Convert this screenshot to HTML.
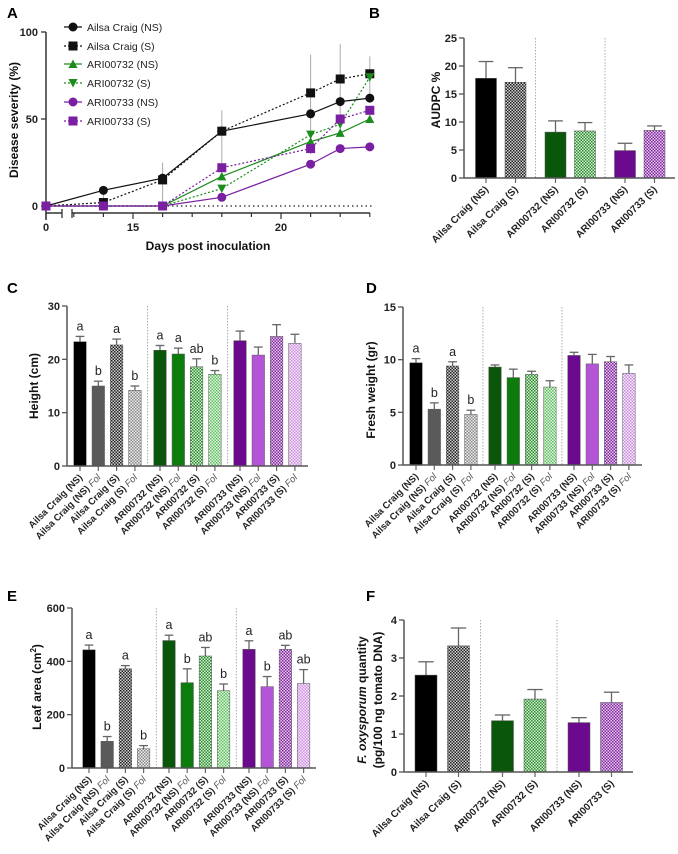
<!DOCTYPE html>
<html><head><meta charset="utf-8">
<style>
html,body{margin:0;padding:0;background:#fff;}
svg{display:block;font-family:"Liberation Sans",sans-serif;}
.tk{font-size:11px;font-weight:bold;fill:#222;}
.xl{font-weight:bold;fill:#222;}
.pl{font-size:15px;font-weight:bold;fill:#000;}
.yt{font-size:12px;font-weight:bold;fill:#111;}
.lt{font-size:12.5px;fill:#222;}
.lg{font-size:10.5px;fill:#222;}
</style></head>
<body>
<svg id="fig" width="678" height="854" viewBox="0 0 678 854" xmlns="http://www.w3.org/2000/svg">
<defs>
<pattern id="pAS" width="3" height="3" patternUnits="userSpaceOnUse"><rect width="3" height="3" fill="#d0d0d0"/><rect width="1.5" height="1.5" fill="#222"/><rect x="1.5" y="1.5" width="1.5" height="1.5" fill="#222"/></pattern>
<pattern id="pASF" width="3" height="3" patternUnits="userSpaceOnUse"><rect width="3" height="3" fill="#eee"/><rect width="1.5" height="1.5" fill="#888"/><rect x="1.5" y="1.5" width="1.5" height="1.5" fill="#888"/></pattern>
<pattern id="pGS" width="3" height="3" patternUnits="userSpaceOnUse"><rect width="3" height="3" fill="#d4f0d4"/><rect width="1.5" height="1.5" fill="#2e8b2e"/><rect x="1.5" y="1.5" width="1.5" height="1.5" fill="#2e8b2e"/></pattern>
<pattern id="pGSF" width="3" height="3" patternUnits="userSpaceOnUse"><rect width="3" height="3" fill="#e8f8e8"/><rect width="1.5" height="1.5" fill="#5cbf5c"/><rect x="1.5" y="1.5" width="1.5" height="1.5" fill="#5cbf5c"/></pattern>
<pattern id="pPS" width="3" height="3" patternUnits="userSpaceOnUse"><rect width="3" height="3" fill="#e6c8ee"/><rect width="1.5" height="1.5" fill="#7e2a9e"/><rect x="1.5" y="1.5" width="1.5" height="1.5" fill="#7e2a9e"/></pattern>
<pattern id="pPSF" width="3" height="3" patternUnits="userSpaceOnUse"><rect width="3" height="3" fill="#f7ebfa"/><rect width="1.5" height="1.5" fill="#cc8ee0"/><rect x="1.5" y="1.5" width="1.5" height="1.5" fill="#cc8ee0"/></pattern>
</defs>
<text class="pl" x="7" y="18">A</text>
<text class="pl" x="369" y="18">B</text>
<text class="pl" x="7" y="293">C</text>
<text class="pl" x="366" y="293">D</text>
<text class="pl" x="7" y="601">E</text>
<text class="pl" x="366" y="601">F</text>
</svg>
<script>
// ---------- DATA ----------
const daysA = [0, 14, 16, 18, 21, 22, 23];
const seriesNamesA = ["Ailsa Craig (NS)", "Ailsa Craig (S)", "ARI00732 (NS)", "ARI00732 (S)", "ARI00733 (NS)", "ARI00733 (S)"];
const acNS = [0, 9, 16, 43, 53, 60, 62];
const acS = [0, 2, 15, 43, 65, 73, 76];
const g732NS = [0, 0, 0, 17, 37, 42, 50];
const g732S = [0, 0, 0, 10, 41, 47, 74];
const p733NS = [0, 0, 0, 5, 24, 33, 34];
const p733S = [0, 0, 0, 22, 33, 50, 55];
const errA = [0, 6, 10, 12, 22, 20, 10];
const yTicksA = [0, 50, 100];
const xTicksA = [15, 20];
const xTickLabelsA = ["0", "15", "20"];

const labels6 = ["Ailsa Craig (NS)", "Ailsa Craig (S)", "ARI00732 (NS)", "ARI00732 (S)", "ARI00733 (NS)", "ARI00733 (S)"];
const labels12 = ["Ailsa Craig (NS)", "Ailsa Craig (NS)", "Ailsa Craig (S)", "Ailsa Craig (S)", "ARI00732 (NS)", "ARI00732 (NS)", "ARI00732 (S)", "ARI00732 (S)", "ARI00733 (NS)", "ARI00733 (NS)", "ARI00733 (S)", "ARI00733 (S)"];
const fol12 = [false, true, false, true, false, true, false, true, false, true, false, true];

const audpcVals = [17.8, 17.1, 8.2, 8.4, 4.9, 8.5];
const audpcErr = [3.0, 2.6, 2.0, 1.5, 1.3, 0.8];
const audpcTicks = [0, 5, 10, 15, 20, 25];

const heightVals = [23.3, 15.0, 22.7, 14.2, 21.7, 21.0, 18.6, 17.2, 23.5, 20.8, 24.3, 23.0];
const heightErr = [1.0, 0.9, 1.1, 0.8, 0.9, 1.1, 1.5, 0.7, 1.8, 1.5, 2.2, 1.7];
const heightLetters = ["a", "b", "a", "b", "a", "a", "ab", "b", "", "", "", ""];
const heightTicks = [0, 10, 20, 30];

const weightVals = [9.7, 5.3, 9.4, 4.8, 9.3, 8.3, 8.6, 7.4, 10.4, 9.6, 9.8, 8.7];
const weightErr = [0.4, 0.6, 0.4, 0.4, 0.2, 0.8, 0.3, 0.6, 0.3, 0.9, 0.5, 0.8];
const weightLetters = ["a", "b", "a", "b", "", "", "", "", "", "", "", ""];
const weightTicks = [0, 5, 10, 15];

const leafVals = [443, 100, 372, 72, 478, 320, 420, 290, 445, 305, 445, 317];
const leafErr = [18, 18, 12, 12, 20, 52, 32, 25, 32, 38, 15, 52];
const leafLetters = ["a", "b", "a", "b", "a", "b", "ab", "b", "a", "b", "ab", "ab"];
const leafTicks = [0, 200, 400, 600];

const foxVals = [2.55, 3.32, 1.35, 1.92, 1.30, 1.83];
const foxErr = [0.35, 0.47, 0.15, 0.25, 0.13, 0.27];
const foxTicks = [0, 1, 2, 3, 4];

// ---------- HELPERS ----------
const NS = 'http://www.w3.org/2000/svg';
const svg = document.getElementById('fig');
function mk(tag, attrs, parent) {
  const e = document.createElementNS(NS, tag);
  for (const k in attrs) e.setAttribute(k, attrs[k]);
  (parent || svg).appendChild(e);
  return e;
}
const fills12 = ["#000", "#5a5a5a", "url(#pAS)", "url(#pASF)", "#0a560a", "#0c7d0c", "url(#pGS)", "url(#pGSF)", "#6b0a8c", "#b355d6", "url(#pPS)", "url(#pPSF)"];
const fills6 = ["#000", "url(#pAS)", "#0a560a", "url(#pGS)", "#6b0a8c", "url(#pPS)"];

function barChart(cfg, vals, errs, letters, labels, fols, fills, ticks) {
  const g = mk('g', {});
  
  
  const ys = v => cfg.ybot - v / cfg.max * (cfg.ybot - cfg.ytop);
  const cx = i => cfg.x0 + Math.floor(i / cfg.per) * cfg.gstride + (i % cfg.per) * cfg.step;
  // separators
  const nG = Math.ceil(vals.length / cfg.per);
  for (let k = 1; k < nG; k++) {
    const sx = (cx(k * cfg.per - 1) + cx(k * cfg.per)) / 2;
    const s = mk('line', {x1: sx, x2: sx, y1: cfg.ytop, y2: cfg.ybot, stroke: '#999', 'stroke-width': 0.8, 'stroke-dasharray': '1.5,1.5'}, g);
    
    
  }
  vals.forEach((v, i) => {
    const c = cx(i);
    const top = ys(v + errs[i]);
    const eb = mk('line', {x1: c, x2: c, y1: ys(v), y2: top, stroke: '#666', 'stroke-width': 1.3}, g);
    
    
    const cap = mk('line', {x1: c - cfg.bw * 0.35, x2: c + cfg.bw * 0.35, y1: top, y2: top, stroke: '#666', 'stroke-width': 1.3}, g);
    
    
    const r = mk('rect', {x: c - cfg.bw / 2, y: ys(v), width: cfg.bw, height: cfg.ybot - ys(v), fill: fills[i], stroke: '#555', 'stroke-width': 0.5}, g);
    
    
    const t = mk('line', {x1: c, x2: c, y1: cfg.ybot, y2: cfg.ybot + 5, stroke: '#666', 'stroke-width': 1.2}, g);
    
    
    if (letters && letters[i]) {
      const lt = mk('text', {x: c, y: top - 6, 'text-anchor': 'middle', class: 'lt'}, g);
      lt.textContent = letters[i];
      
      
    }
    const lx = c + 3, ly = cfg.ybot + 12;
    const tl = mk('text', {x: lx, y: ly, 'text-anchor': 'end', class: 'xl', 'font-size': cfg.fs, transform: 'rotate(-45 ' + lx + ' ' + ly + ')'}, g);
    
    
    if (fols && fols[i]) {
      tl.textContent = labels[i] + ' ';
      const ft = mk('tspan', {'font-style': 'italic', 'font-weight': 'normal', fill: '#555'}, tl);
      ft.textContent = 'Fol';
    } else tl.textContent = labels[i];
  });
  // axes
  const ya = mk('line', {x1: cfg.ax, x2: cfg.ax, y1: cfg.ytop, y2: cfg.ybot, stroke: '#555', 'stroke-width': 1.5}, g);
  
  
  const xa = mk('line', {x1: cfg.ax, x2: cfg.xend, y1: cfg.ybot, y2: cfg.ybot, stroke: '#555', 'stroke-width': 1.5}, g);
  
  
  ticks.forEach(tv => {
    const y = ys(tv);
    const tk = mk('line', {x1: cfg.ax - 5, x2: cfg.ax, y1: y, y2: y, stroke: '#555', 'stroke-width': 1.3}, g);
    
    
    const tt = mk('text', {x: cfg.ax - 7, y: y + 4, 'text-anchor': 'end', class: 'tk'}, g);
    tt.textContent = tv;
    
    
  });
  return g;
}
function yTitle(x, y, txt, name) {
  const t = mk('text', {x: x, y: y, 'text-anchor': 'middle', class: 'yt', transform: 'rotate(-90 ' + x + ' ' + y + ')'});
  t.textContent = txt;
  
  
  return t;
}

// ---------- PANEL A ----------
(function () {
  const ax = 46, ytop = 32, y0 = 206, xb = 213;
  const ys = v => y0 - v / 100 * (y0 - ytop);
  const xs = d => d === 0 ? ax : 133 + (d - 15) * 29.6;
  const g = mk('g', {});
  
  
  const zl = mk('line', {x1: ax, x2: 372, y1: y0, y2: y0, stroke: '#222', 'stroke-width': 1.2, 'stroke-dasharray': '1.5,3'}, g);
  
  
  const ya = mk('line', {x1: ax, x2: ax, y1: ytop, y2: 220, stroke: '#333', 'stroke-width': 1.5}, g);
  
  
  const xa1 = mk('line', {x1: ax, x2: 62, y1: xb, y2: xb, stroke: '#333', 'stroke-width': 1.5}, g);
  
  
  const xa2 = mk('line', {x1: 72, x2: 370, y1: xb, y2: xb, stroke: '#333', 'stroke-width': 1.5}, g);
  
  
  [62, 72].forEach(bx => {
    const b = mk('line', {x1: bx, x2: bx, y1: xb - 4, y2: xb + 5, stroke: '#333', 'stroke-width': 1.3}, g);
    
    
  });
  yTicksA.forEach(tv => {
    const tk = mk('line', {x1: ax - 5, x2: ax, y1: ys(tv), y2: ys(tv), stroke: '#333', 'stroke-width': 1.3}, g);
    
    
    const tt = mk('text', {x: ax - 8, y: ys(tv) + 4, 'text-anchor': 'end', class: 'tk'}, g);
    tt.textContent = tv;
    
    
  });
  for (let d = 13; d <= 23; d++) {
    const major = xTicksA.includes(d);
    const tk = mk('line', {x1: xs(d), x2: xs(d), y1: xb, y2: xb + (major ? 6 : 4), stroke: '#333', 'stroke-width': 1.2}, g);
    
    
  }
  const x0t = mk('line', {x1: ax, x2: ax, y1: xb, y2: xb + 6, stroke: '#333', 'stroke-width': 1.2}, g);
  
  
  [0].concat(xTicksA).forEach((d, i) => {
    const tt = mk('text', {x: xs(d), y: xb + 18, 'text-anchor': 'middle', class: 'tk'}, g);
    tt.textContent = xTickLabelsA[i];
    
    
  });
  const xt = mk('text', {x: 208, y: 250, 'text-anchor': 'middle', class: 'yt'}, g);
  xt.textContent = 'Days post inoculation';
  
  

  const series = [acNS, acS, g732NS, g732S, p733NS, p733S];
  const colors = ['#111', '#111', '#1c8c1c', '#1c8c1c', '#7a1fa2', '#7a1fa2'];
  const dashed = [false, true, false, true, false, true];
  const markers = ['circle', 'square', 'tri', 'tridown', 'circle', 'square'];
  function marker(type, x, y, col, parent) {
    let m;
    if (type === 'circle') m = mk('circle', {cx: x, cy: y, r: 4.5, fill: col}, parent);
    else if (type === 'square') m = mk('rect', {x: x - 4.5, y: y - 4.5, width: 9, height: 9, fill: col}, parent);
    else if (type === 'tri') m = mk('polygon', {points: (x - 4.5) + ',' + (y + 4) + ' ' + (x + 4.5) + ',' + (y + 4) + ' ' + x + ',' + (y - 4.5), fill: col}, parent);
    else m = mk('polygon', {points: (x - 4.5) + ',' + (y - 4) + ' ' + (x + 4.5) + ',' + (y - 4) + ' ' + x + ',' + (y + 4.5), fill: col}, parent);
    return m;
  }
  // error bars
  daysA.forEach((d, i) => {
    if (!errA[i]) return;
    const x = xs(d), vc = acS[i];
    const e = mk('line', {x1: x, x2: x, y1: ys(Math.min(100, vc + errA[i])), y2: ys(Math.max(0, vc - errA[i] * 1.6)), stroke: '#aaa', 'stroke-width': 1}, g);
    
    
  });
  series.forEach((s, k) => {
    const pts = s.map((v, i) => xs(daysA[i]) + ',' + ys(v)).join(' ');
    const pl = mk('polyline', {points: pts, fill: 'none', stroke: colors[k], 'stroke-width': 1.2, 'stroke-dasharray': dashed[k] ? '2,2' : 'none'}, g);
    
    
  });
  series.forEach((s, k) => {
    s.forEach((v, i) => {
      const m = marker(markers[k], xs(daysA[i]), ys(v), colors[k], g);
      
      
    });
  });
  // legend
  const legY = [27, 46, 64, 83, 102, 121];
  seriesNamesA.forEach((n, k) => {
    const ll = mk('line', {x1: 64, x2: 82, y1: legY[k], y2: legY[k], stroke: colors[k], 'stroke-width': 1.2, 'stroke-dasharray': dashed[k] ? '2,2' : 'none'}, g);
    
    
    const lm = marker(markers[k], 73, legY[k], colors[k], g);
    
    
    const lt = mk('text', {x: 87, y: legY[k] + 4, class: 'lg'}, g);
    lt.textContent = n;
    
    
  });
  yTitle(18, 120, 'Disease severity (%)', 'y-axis-title-a');
})();

// ---------- PANEL B ----------
barChart({name: 'audpc-chart', x0: 486, step: 29.5, gstride: 69.5, per: 2, ax: 464, xend: 675, ytop: 38, ybot: 178, max: 25, bw: 21, fs: 10},
  audpcVals, audpcErr, null, labels6, null, fills6, audpcTicks);
yTitle(440, 100, 'AUDPC %', 'y-axis-title-b');

// ---------- PANEL C ----------
barChart({name: 'height-chart', x0: 80, step: 18.3, gstride: 80, per: 4, ax: 67, xend: 308, ytop: 306, ybot: 466, max: 30, bw: 12.5, fs: 9.5},
  heightVals, heightErr, heightLetters, labels12, fol12, fills12, heightTicks);
yTitle(38, 386, 'Height (cm)', 'y-axis-title-c');

// ---------- PANEL D ----------
barChart({name: 'fresh-weight-chart', x0: 416, step: 18.3, gstride: 79, per: 4, ax: 403, xend: 642, ytop: 307, ybot: 465, max: 15, bw: 12.5, fs: 9.5},
  weightVals, weightErr, weightLetters, labels12, fol12, fills12, weightTicks);
yTitle(375, 390, 'Fresh weight (gr)', 'y-axis-title-d');

// ---------- PANEL E ----------
barChart({name: 'leaf-area-chart', x0: 89, step: 18.2, gstride: 80, per: 4, ax: 72, xend: 316, ytop: 608, ybot: 768, max: 600, bw: 12.5, fs: 9.5},
  leafVals, leafErr, leafLetters, labels12, fol12, fills12, leafTicks);
(function () {
  const t = yTitle(41, 687, 'Leaf area (cm', 'y-axis-title-e');
  const sup = mk('tspan', {dy: -5, 'font-size': 8}, t);
  sup.textContent = '2';
  const cl = mk('tspan', {dy: 5}, t);
  cl.textContent = ')';
})();

// ---------- PANEL F ----------
barChart({name: 'fusarium-quantity-chart', x0: 426, step: 32.5, gstride: 76.5, per: 2, ax: 404, xend: 633, ytop: 620, ybot: 772, max: 4, bw: 22, fs: 10},
  foxVals, foxErr, null, labels6, null, fills6, foxTicks);
(function () {
  const t = yTitle(366, 700, '', 'y-axis-title-f');
  const it = mk('tspan', {'font-style': 'italic'}, t);
  it.textContent = 'F. oxysporum';
  const rest = mk('tspan', {}, t);
  rest.textContent = ' quantity';
  yTitle(382, 700, '(pg/100 ng tomato DNA)', 'y-axis-title-f-units');
})();
</script>
</body></html>
